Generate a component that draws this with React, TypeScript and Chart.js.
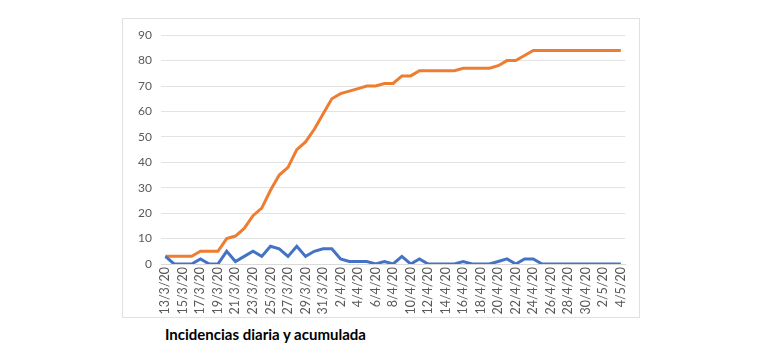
import React, { useEffect, useRef } from "react";
import { Chart, registerables } from "chart.js";

Chart.register(...registerables);

const labels: string[] = [
  "13/3/20", "14/3/20", "15/3/20", "16/3/20", "17/3/20", "18/3/20", "19/3/20", "20/3/20",
  "21/3/20", "22/3/20", "23/3/20", "24/3/20", "25/3/20", "26/3/20", "27/3/20", "28/3/20",
  "29/3/20", "30/3/20", "31/3/20", "1/4/20", "2/4/20", "3/4/20", "4/4/20", "5/4/20",
  "6/4/20", "7/4/20", "8/4/20", "9/4/20", "10/4/20", "11/4/20", "12/4/20", "13/4/20",
  "14/4/20", "15/4/20", "16/4/20", "17/4/20", "18/4/20", "19/4/20", "20/4/20", "21/4/20",
  "22/4/20", "23/4/20", "24/4/20", "25/4/20", "26/4/20", "27/4/20", "28/4/20", "29/4/20",
  "30/4/20", "1/5/20", "2/5/20", "3/5/20", "4/5/20",
];

const diaria: number[] = [
  3, 0, 0, 0, 2, 0, 0, 5, 1, 3, 5, 3, 7, 6, 3, 7, 3, 5, 6, 6, 2, 1, 1, 1,
  0, 1, 0, 3, 0, 2, 0, 0, 0, 0, 1, 0, 0, 0, 1, 2, 0, 2, 2, 0, 0, 0, 0, 0,
  0, 0, 0, 0, 0,
];

const acumulada: number[] = [
  3, 3, 3, 3, 5, 5, 5, 10, 11, 14, 19, 22, 29, 35, 38, 45, 48, 53, 59, 65, 67, 68, 69, 70,
  70, 71, 71, 74, 74, 76, 76, 76, 76, 76, 77, 77, 77, 77, 78, 80, 80, 82, 84, 84, 84, 84,
  84, 84, 84, 84, 84, 84, 84,
];

const yTicks: number[] = [0, 10, 20, 30, 40, 50, 60, 70, 80, 90];

const title = "Incidencias diaria y acumulada";

export default function App() {
  const ref = useRef<HTMLCanvasElement>(null);

  useEffect(() => {
    if (!ref.current) return;
    const chart = new Chart(ref.current, {
      type: "line",
      data: {
        labels,
        datasets: [
          {
            label: "Diaria",
            data: diaria,
            borderColor: "#4472C4",
            backgroundColor: "#4472C4",
            borderWidth: 3,
            pointRadius: 0,
            tension: 0,
          },
          {
            label: "Acumulada",
            data: acumulada,
            borderColor: "#ED7D31",
            backgroundColor: "#ED7D31",
            borderWidth: 3,
            pointRadius: 0,
            tension: 0,
          },
        ],
      },
      options: {
        animation: false,
        responsive: false,
        maintainAspectRatio: false,
        layout: { padding: { left: 0, right: 13, top: 15, bottom: 0 } },
        plugins: {
          legend: { display: false },
          tooltip: { enabled: false },
          title: { display: false },
        },
        scales: {
          x: {
            offset: true,
            grid: { display: false, drawTicks: false },
            border: { display: true, color: "#D9D9D9", width: 1 },
            afterFit: (scale: any) => {
              scale.height = 53;
            },
            ticks: {
              autoSkip: false,
              maxRotation: 90,
              minRotation: 90,
              padding: 3,
              color: "#595959",
              font: { family: "Lato", size: 12.5 },
              callback: (_v: any, i: number) => (i % 2 === 0 ? labels[i] : ""),
            },
          },
          y: {
            min: 0,
            max: 90,
            afterBuildTicks: (scale: any) => {
              scale.ticks = yTicks.map((v) => ({ value: v }));
            },
            afterFit: (scale: any) => {
              scale.width = 38;
            },
            grid: { color: "#E3E3E3", lineWidth: 1, drawTicks: false },
            border: { display: false },
            ticks: {
              padding: 9,
              color: "#595959",
              font: { family: "Lato", size: 12 },
            },
          },
        },
      },
    });
    return () => chart.destroy();
  }, []);

  return (
    <div style={{ position: "absolute", left: 0, top: 0, width: 770, height: 359, background: "#fff" }}>
      <div
        style={{
          position: "absolute",
          left: 122,
          top: 18,
          width: 516,
          height: 298,
          border: "1px solid #E0E0E0",
        }}
      >
        <canvas ref={ref} width={516} height={298} style={{ display: "block" }} />
      </div>
      <div
        style={{
          position: "absolute",
          left: 165,
          top: 325,
          fontFamily: "Lato",
          fontWeight: 700,
          fontSize: 15,
          color: "#000",
          whiteSpace: "nowrap",
        }}
      >
        {title}
      </div>
    </div>
  );
}
